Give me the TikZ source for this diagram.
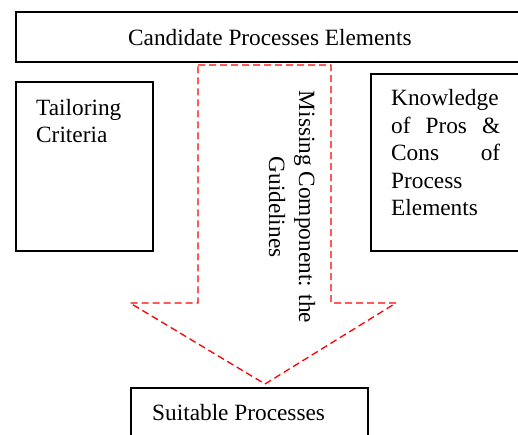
\documentclass[tikz,border=0pt]{standalone}
\usepackage{fontspec}
\setmainfont{Liberation Serif}
\begin{document}
\begin{tikzpicture}[x=1pt,y=-1pt,
  box/.style={draw=black,line width=1.4pt,inner sep=0pt},
  txt/.style={inner sep=0pt,anchor=base west,font=\fontsize{23.3}{27.5}\selectfont},
  rtxt/.style={inner sep=0pt,anchor=base,rotate=-90,font=\fontsize{23.3}{27.5}\selectfont},
  guide/.style={draw=red,line width=1.3pt,dash pattern=on 7pt off 4pt}]
\useasboundingbox (0,0) rectangle (518,434);
\clip (0,0) rectangle (518,434);
% boxes
\node[box,minimum width=514pt,minimum height=50pt] (top) at (273,37) {};
\node[box,minimum width=137pt,minimum height=169pt] (tail) at (84.5,166.5) {};
\node[box,minimum width=160pt,minimum height=177pt] (know) at (451,162.5) {};
\node[box,minimum width=237pt,minimum height=80pt] (suit) at (249.5,428) {};
% texts
\node[txt] (toptext) at (128,45) {Candidate Processes Elements};
\node[txt] (tl1) at (36,115) {Tailoring};
\node[txt] (tl2) at (36,142) {Criteria};
\node[txt] (kl1) at (391,105) {Knowledge};
\node[txt] (kl2) at (391,133) {\makebox[109pt][s]{of Pros \&}};
\node[txt] (kl3) at (391,160) {\makebox[109pt][s]{Cons of}};
\node[txt] (kl4) at (391,188) {Process};
\node[txt] (kl5) at (391,215) {Elements};
\node[txt] (st) at (152,420) {Suitable Processes};
% arrow
\coordinate (a1) at (198,65);
\coordinate (a2) at (331,65);
\coordinate (a3) at (331,303);
\coordinate (a4) at (396,303);
\coordinate (a5) at (265,384);
\coordinate (a6) at (130,303);
\coordinate (a7) at (198,303);
\draw[guide] (a1) -- (a2) -- (a3) -- (a4) -- (a5) -- (a6) -- (a7) -- cycle;
\node[rtxt] (m1) at (299,207) {Missing Component: the};
\node[rtxt] (m2) at (269,207) {Guidelines};
\end{tikzpicture}
\end{document}
